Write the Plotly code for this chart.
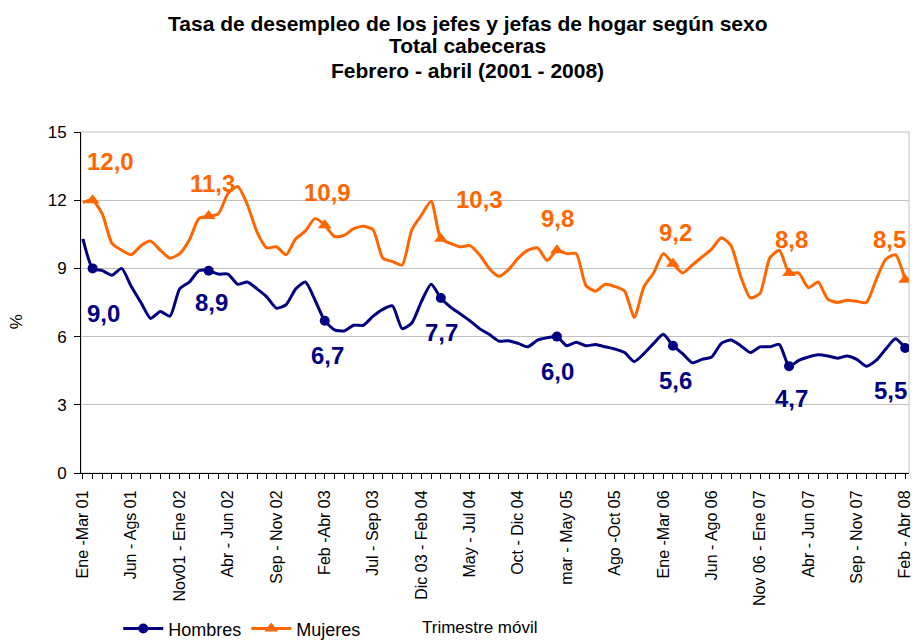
import plotly.graph_objects as go

# ---- data ----
n_points = 86
tick_idx = list(range(0, 86, 5))
tick_labels = ["Ene -Mar 01", "Jun - Ags 01", "Nov01 - Ene 02", "Abr - Jun 02",
               "Sep - Nov 02", "Feb -Abr 03", "Jul - Sep 03", "Dic 03 - Feb 04",
               "May - Jul 04", "Oct - Dic 04", "mar - May 05", "Ago -Oct 05",
               "Ene -Mar 06", "Jun - Ago 06", "Nov 06 - Ene 07", "Abr - Jun 07",
               "Sep - Nov 07", "Feb - Abr 08"]

hombres = [10.3, 9.0, 8.9, 8.7, 9.0, 8.2, 7.5, 6.8, 7.1, 6.9,
           8.1, 8.4, 8.9, 8.9, 8.75, 8.75, 8.3, 8.4, 8.1, 7.75,
           7.25, 7.4, 8.1, 8.4, 7.6, 6.7, 6.3, 6.25, 6.5, 6.5,
           6.9, 7.2, 7.35, 6.35, 6.6, 7.55, 8.3, 7.7, 7.3, 7.0,
           6.7, 6.35, 6.1, 5.8, 5.82, 5.7, 5.55, 5.85, 5.95, 6.0,
           5.6, 5.75, 5.6, 5.65, 5.55, 5.45, 5.3, 4.9, 5.25, 5.7,
           6.1, 5.6, 5.25, 4.85, 5.0, 5.1, 5.7, 5.85, 5.6, 5.3,
           5.55, 5.55, 5.65, 4.7, 4.95, 5.1, 5.2, 5.15, 5.05, 5.15,
           5.0, 4.7, 4.95, 5.45, 5.9, 5.5]

mujeres = [11.9, 12.0, 11.4, 10.1, 9.8, 9.6, 10.0, 10.2, 9.8, 9.45,
           9.65, 10.25, 11.2, 11.3, 11.4, 12.3, 12.6, 11.8, 10.6, 9.9,
           9.95, 9.6, 10.3, 10.65, 11.2, 10.9, 10.4, 10.45, 10.75, 10.85,
           10.7, 9.45, 9.3, 9.15, 10.7, 11.35, 11.95, 10.3, 10.1, 9.95,
           10.0, 9.6, 9.0, 8.65, 8.95, 9.45, 9.8, 9.9, 9.35, 9.8,
           9.65, 9.65, 8.25, 8.0, 8.3, 8.2, 8.0, 6.85, 8.2, 8.8,
           9.65, 9.2, 8.8, 9.15, 9.5, 9.85, 10.35, 10.0, 8.65, 7.7,
           7.9, 9.45, 9.8, 8.8, 8.8, 8.15, 8.4, 7.65, 7.5, 7.6,
           7.55, 7.5, 8.5, 9.4, 9.6, 8.5]

marker_idx = [1, 13, 25, 37, 49, 61, 73, 85]   # Feb-Abr de cada año

title_lines = ["Tasa de desempleo de los jefes y jefas de hogar según sexo",
               "Total cabeceras",
               "Febrero - abril (2001 - 2008)"]

x = list(range(n_points))
NAVY = "#000080"
ORANGE = "#FF6600"
FONT = "Arial, Liberation Sans, sans-serif"

fig = go.Figure()

for name, vals, color, sym, msize in [("Hombres", hombres, NAVY, "circle", 10),
                                      ("Mujeres", mujeres, ORANGE, "triangle-up", 12)]:
    fig.add_trace(go.Scatter(x=x, y=vals, mode="lines", showlegend=False,
                             line=dict(color=color, width=3, shape="spline", smoothing=0.6),
                             hoverinfo="skip"))
    fig.add_trace(go.Scatter(x=marker_idx, y=[vals[i] for i in marker_idx], mode="markers",
                             showlegend=False,
                             marker=dict(color=color, symbol=sym, size=msize)))
    fig.add_trace(go.Scatter(x=[None], y=[None], mode="lines+markers", name=name,
                             line=dict(color=color, width=3),
                             marker=dict(color=color, symbol=sym, size=msize)))

# data labels (pixel offsets from the marker)
muj_shift = [(18, -39), (4, -33), (3, -33), (39, -39), (1, -32), (3, -31), (2, -33), (-16, -40)]
hom_shift = [(11, 45), (3, 32), (3, 35), (1, 35), (1, 35), (3, 35), (2, 32), (-15, 43)]

def fmt(v):
    return f"{v:.1f}".replace(".", ",")

for vals, shifts, color in [(mujeres, muj_shift, ORANGE), (hombres, hom_shift, NAVY)]:
    for i, (dx, dy) in zip(marker_idx, shifts):
        fig.add_annotation(x=i, y=vals[i], text=f"<b>{fmt(vals[i])}</b>", showarrow=False,
                           xshift=dx, yshift=-dy, font=dict(family=FONT, size=24, color=color))

# title lines
for yy, line in zip([1.317, 1.2522, 1.1818], title_lines):
    fig.add_annotation(text=f"<b>{line}</b>", xref="paper", yref="paper", x=0.467, y=yy,
                       xanchor="center", yanchor="middle", showarrow=False,
                       font=dict(family=FONT, size=21, color="black"))

fig.add_annotation(text="Trimestre móvil", xref="paper", yref="paper", x=0.482, y=-0.4545,
                   xanchor="center", yanchor="middle",
                   showarrow=False, font=dict(family=FONT, size=17, color="black"))
fig.add_annotation(text="%", xref="paper", yref="paper", x=-0.077, y=0.443, textangle=-90,
                   xanchor="center", yanchor="middle",
                   showarrow=False, font=dict(family=FONT, size=17, color="black"))

fig.add_shape(type="rect", xref="paper", yref="paper", x0=0, x1=1, y0=0, y1=1,
              line=dict(color="#c0c0c0", width=1), layer="below")

fig.update_layout(
    width=912, height=641,
    margin=dict(l=81, r=3, t=132, b=168, autoexpand=False),
    paper_bgcolor="white", plot_bgcolor="white",
    font=dict(family=FONT, size=16, color="black"),
    showlegend=True,
    legend=dict(orientation="h", x=0.045, y=-0.457, xanchor="left", yanchor="middle",
                font=dict(family=FONT, size=18), bgcolor="rgba(0,0,0,0)",
                itemwidth=40, tracegroupgap=0),
    xaxis=dict(range=[-0.2, 85.4], tickmode="array", tickvals=tick_idx, ticktext=tick_labels,
               tickangle=-90, showgrid=False, zeroline=False,
               showline=True, linecolor="black", linewidth=1,
               ticks="outside", ticklen=5, tickcolor="black", ticklabelstandoff=5,
               ticklabeloverflow="allow",
               minor=dict(dtick=1, tick0=0, ticks="outside", ticklen=5, tickcolor="black",
                          showgrid=False),
               tickfont=dict(family=FONT, size=16)),
    yaxis=dict(range=[0, 15], dtick=3, tick0=0, showgrid=True, gridcolor="#c0c0c0",
               gridwidth=1, zeroline=False, showline=True, linecolor="black", linewidth=1,
               ticks="outside", ticklen=6, tickcolor="black", ticklabelstandoff=4,
               tickfont=dict(family=FONT, size=17)),
)

fig.write_html("out.html", config={"displayModeBar": False},
               post_script="document.body.style.margin='0';")
